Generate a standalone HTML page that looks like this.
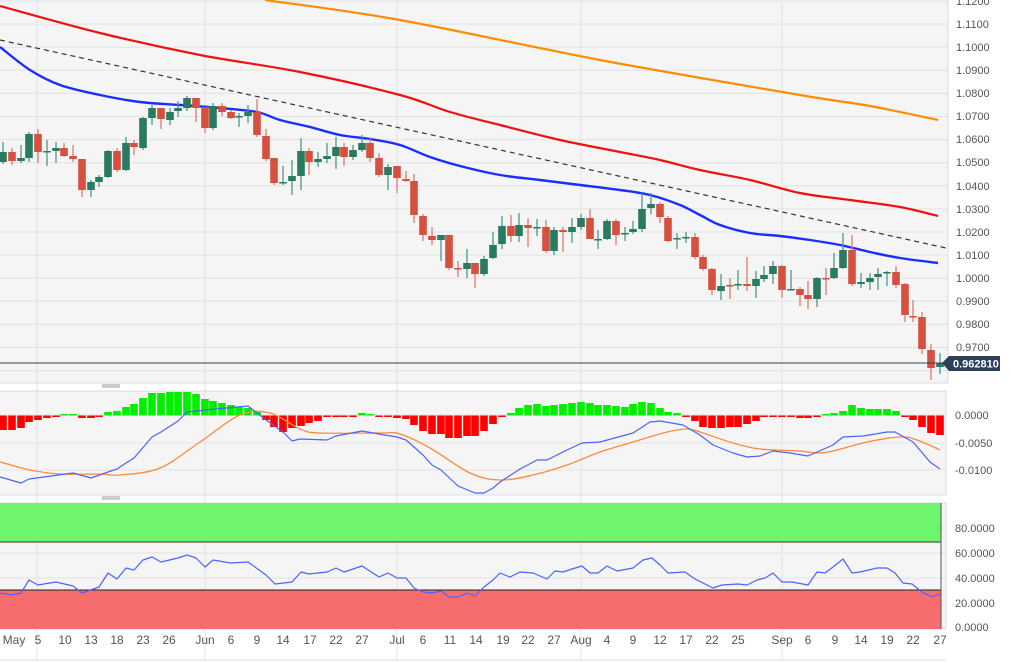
<!DOCTYPE html>
<html><head><meta charset="utf-8"><style>
html,body{margin:0;padding:0;background:#fff;width:1011px;height:663px;overflow:hidden}
svg{display:block;font-family:"Liberation Sans",sans-serif}
.t{font-size:11px;fill:#555}
.b{font-size:12px;fill:#555}
</style></head><body>
<svg id="s" width="1011" height="663" viewBox="0 0 1011 663">
<rect x="0" y="0" width="948" height="383" fill="#f5f5f5"/>
<rect x="0" y="391" width="946" height="104" fill="#f5f5f5"/>
<rect x="0" y="503" width="946" height="126" fill="#f5f5f5"/>
<g id="grid" stroke="#e3e3e3" stroke-width="1"></g>
<g stroke="#d7dce6" fill="none">
<line x1="948" y1="0" x2="948" y2="383"/><line x1="0" y1="383" x2="948" y2="383"/>
<line x1="946" y1="391" x2="946" y2="495"/><line x1="0" y1="391" x2="946" y2="391"/><line x1="0" y1="495" x2="946" y2="495"/>
<line x1="946" y1="503" x2="946" y2="629"/><line x1="0" y1="503" x2="946" y2="503"/><line x1="0" y1="629" x2="946" y2="629"/>
<line x1="0" y1="660" x2="946" y2="660"/>
</g>
<g stroke="#999" stroke-width="1"><line x1="102" y1="385" x2="120" y2="385"/><line x1="102" y1="387" x2="120" y2="387"/><line x1="102" y1="497" x2="120" y2="497"/><line x1="102" y1="499" x2="120" y2="499"/></g>
<rect x="0" y="503" width="941" height="39" fill="#6ff56d"/>
<line x1="0" y1="542" x2="941" y2="542" stroke="#333" stroke-width="1"/>
<rect x="0" y="590" width="941" height="39" fill="#f76d6e"/>
<line x1="0" y1="590" x2="941" y2="590" stroke="#222" stroke-width="1"/>
<line x1="941" y1="503" x2="941" y2="629" stroke="#555" stroke-width="1"/>
<g id="ma" fill="none"></g>
<g id="cd"></g>
<g id="hist"></g>
<g id="ind" fill="none"></g>
<line x1="0" y1="363" x2="948" y2="363" stroke="#2c3e5a" stroke-width="1"/>
<polygon points="942,363 949,356 1000,356 1000,371 949,371" fill="#2c3e5a"/>
<text x="953" y="367.5" font-size="11" font-weight="bold" fill="#fff">0.962810</text>
<g class="t">
<text x="956" y="5">1.1200</text><text x="956" y="28">1.1100</text><text x="956" y="51">1.1000</text>
<text x="956" y="74">1.0900</text><text x="956" y="97">1.0800</text><text x="956" y="120">1.0700</text>
<text x="956" y="143">1.0600</text><text x="956" y="166">1.0500</text><text x="956" y="190">1.0400</text>
<text x="956" y="213">1.0300</text><text x="956" y="236">1.0200</text><text x="956" y="259">1.0100</text>
<text x="956" y="282">1.0000</text><text x="956" y="305">0.9900</text><text x="956" y="328">0.9800</text>
<text x="956" y="351">0.9700</text>
<text x="955" y="419">0.0000</text><text x="955" y="447">-0.0050</text><text x="955" y="474">-0.0100</text>
<text x="955" y="532">80.0000</text><text x="955" y="557">60.0000</text><text x="955" y="582">40.0000</text>
<text x="955" y="607">20.0000</text><text x="955" y="631">0.0000</text>
</g>
<g class="b" text-anchor="middle">
<text x="14" y="644">May</text><text x="38" y="644">5</text><text x="65" y="644">10</text><text x="91" y="644">13</text>
<text x="117" y="644">18</text><text x="143" y="644">23</text><text x="169" y="644">26</text><text x="205" y="644">Jun</text>
<text x="231" y="644">6</text><text x="257" y="644">9</text><text x="283" y="644">14</text><text x="310" y="644">17</text>
<text x="336" y="644">22</text><text x="362" y="644">27</text><text x="397" y="644">Jul</text><text x="423" y="644">6</text>
<text x="450" y="644">11</text><text x="476" y="644">14</text><text x="503" y="644">19</text><text x="528" y="644">22</text>
<text x="554" y="644">27</text><text x="581" y="644">Aug</text><text x="607" y="644">4</text><text x="633" y="644">9</text>
<text x="660" y="644">12</text><text x="686" y="644">17</text><text x="712" y="644">22</text><text x="738" y="644">25</text>
<text x="782" y="644">Sep</text><text x="808" y="644">6</text><text x="835" y="644">9</text><text x="861" y="644">14</text>
<text x="887" y="644">19</text><text x="913" y="644">22</text><text x="940" y="644">27</text>
</g>
</svg>
<script>
var NS="http://www.w3.org/2000/svg";
function el(p,t,a){var e=document.createElementNS(NS,t);for(var k in a)e.setAttribute(k,a[k]);document.getElementById(p).appendChild(e);return e;}
for(var y=1;y<=380;y+=23.1)el("grid","line",{x1:0,y1:y,x2:948,y2:y});
[415,443,470].forEach(function(y){el("grid","line",{x1:0,y1:y,x2:946,y2:y});});
[528,553,578,603].forEach(function(y){el("grid","line",{x1:0,y1:y,x2:946,y2:y});});
[37,205,397,581,782].forEach(function(x){el("grid","line",{x1:x,y1:0,x2:x,y2:660});});
function pl(g,pts,c,w,d){var a={points:pts.map(function(p){return p.join(",")}).join(" "),stroke:c,"stroke-width":w,fill:"none","stroke-linejoin":"round"};if(d)a["stroke-dasharray"]=d;el(g,"polyline",a);}
function sm(g,p,c,w){var d="M"+p[0][0]+","+p[0][1];for(var i=0;i<p.length-1;i++){var p0=p[i-1]||p[i],p1=p[i],p2=p[i+1],p3=p[i+2]||p2;
var c1=[p1[0]+(p2[0]-p0[0])/6,p1[1]+(p2[1]-p0[1])/6],c2=[p2[0]-(p3[0]-p1[0])/6,p2[1]-(p3[1]-p1[1])/6];
d+="C"+c1.join(",")+" "+c2.join(",")+" "+p2.join(",");}
el(g,"path",{d:d,stroke:c,"stroke-width":w,fill:"none"});}
sm("ma",[[265,0],[400,20],[600,60],[800,95],[870,106],[938,120]],"#ff8c00",2.2);
sm("ma",[[0,6],[100,33],[200,55],[300,72],[400,95],[450,112],[500,125],[560,140],[620,152],[660,160],[700,170],[750,180],[800,193],[850,200],[900,207],[938,216]],"#f01010",2.2);
sm("ma",[[0,47],[30,70],[60,85],[100,95],[140,102],[180,105],[220,108],[257,112],[280,120],[310,127],[340,135],[370,139],[400,145],[430,157],[460,166],[500,175],[540,180],[580,185],[620,190],[650,195],[680,205],[700,215],[720,225],[750,233],[780,236],[810,240],[840,245],[870,252],[900,258],[938,263]],"#1a2eff",2.4);
pl("ma",[[0,40],[946,248]],"#333",1.2,"5,4");
var C=[[3,162,152,142,164],[12,152,161,148,165],[21,161,158,145,163],[29,158,134,132,162],[38,134,152,129,163],[47,152,151,140,166],[56,151,148,142,163],[64,148,156,143,157],[73,156,159,145,162],[82,159,190,159,197],[91,190,182,180,197],[99,182,177,175,187],[108,177,151,150,178],[117,151,170,148,172],[126,170,143,137,171],[134,143,147,140,155],[143,148,118,117,150],[152,118,108,105,125],[161,108,119,108,129],[170,120,112,108,125],[178,111,108,101,117],[187,108,98,96,111],[196,98,108,98,122],[205,107,128,107,133],[213,128,106,103,130],[222,106,112,103,116],[231,112,118,110,119],[239,117,116,113,127],[248,116,112,105,123],[257,112,135,99,137],[266,136,159,129,161],[274,158,183,158,185],[283,183,182,166,185],[292,181,176,160,195],[301,176,151,138,190],[309,151,162,148,175],[318,162,159,152,167],[327,159,156,143,163],[336,156,147,137,169],[344,147,157,143,166],[353,157,150,145,160],[362,150,143,135,152],[370,143,158,137,162],[379,158,175,153,177],[388,175,167,164,190],[397,166,178,166,193],[406,179,181,171,182],[414,181,215,174,223],[423,216,235,214,241],[432,236,240,227,245],[441,240,235,235,261],[449,235,268,235,270],[458,268,269,261,277],[467,269,263,249,278],[475,263,274,263,288],[484,274,259,256,276],[493,258,245,232,259],[502,244,226,216,249],[511,226,236,215,242],[519,236,225,213,242],[528,225,228,218,247],[537,228,227,219,236],[546,227,251,220,253],[554,251,230,227,255],[563,230,232,227,252],[572,232,227,218,243],[581,227,218,214,230],[590,218,239,209,239],[598,240,239,230,249],[607,239,221,219,240],[616,221,235,219,245],[625,234,233,227,241],[633,232,229,221,234],[642,229,209,193,232],[651,208,204,193,214],[660,204,217,202,223],[668,218,241,216,242],[677,239,238,233,249],[686,238,237,232,243],[695,237,257,233,259],[703,257,269,255,271],[712,269,290,268,295],[721,291,286,274,300],[730,285,286,278,299],[738,285,284,270,290],[747,284,286,257,291],[756,286,279,271,298],[764,279,275,266,282],[773,274,266,261,284],[782,266,290,265,298],[791,290,289,270,290],[800,289,295,287,306],[808,295,299,281,309],[817,299,278,277,307],[826,278,279,268,295],[834,278,268,253,279],[843,268,250,233,269],[852,250,284,235,286],[861,284,282,273,288],[870,282,278,273,290],[878,277,274,268,290],[887,273,272,271,286],[896,272,285,266,288],[905,284,315,283,322],[913,316,317,300,322],[922,317,349,312,354],[931,350,368,344,380],[940,367,363,353,374]];
C.forEach(function(c){var g=c[2]<=c[1];var col=g?"#287a61":"#d5503f",wc=g?"#4f9a80":"#e07a6c";
el("cd","line",{x1:c[0],y1:c[3],x2:c[0],y2:c[4],stroke:wc,"stroke-width":1.3});
var t=Math.min(c[1],c[2]),h=Math.max(Math.abs(c[1]-c[2]),1.5);el("cd","rect",{x:c[0]-3.8,y:t,width:7.6,height:h,fill:col});});
var H=[[3,430],[12,430],[21,428],[29,422],[38,420],[47,418],[56,417],[64,414],[73,414],[82,418],[91,418],[99,417],[108,412],[117,411],[126,407],[134,404],[143,398],[152,393],[161,393],[170,392],[178,392],[187,392],[196,394],[205,399],[213,401],[222,403],[231,405],[239,407],[248,408],[257,412],[266,420],[274,427],[283,432],[292,428],[301,426],[309,423],[318,421],[327,417],[336,416],[344,416],[353,416],[362,413],[370,414],[379,416],[388,417],[397,418],[406,419],[414,425],[423,431],[432,434],[441,434],[449,438],[458,438],[467,436],[475,436],[484,431],[493,424],[502,417],[511,413],[519,408],[528,405],[537,404],[546,406],[554,405],[563,404],[572,403],[581,402],[590,403],[598,405],[607,405],[616,406],[625,407],[633,404],[642,402],[651,403],[660,408],[668,412],[677,413],[686,417],[695,421],[703,427],[712,428],[721,428],[730,427],[738,427],[747,424],[756,421],[764,417],[773,417],[782,417],[791,417],[800,418],[808,418],[817,417],[826,414],[834,413],[843,411],[852,405],[861,408],[870,409],[878,409],[887,409],[896,411],[905,416],[913,420],[922,427],[931,433],[940,435]];
H.forEach(function(h){var z=415.5,up=h[1]<z;var y=Math.min(h[1],z),ht=Math.max(Math.abs(h[1]-z),1.5);
el("hist","rect",{x:h[0]-3.8,y:y,width:7.6,height:ht,fill:up?"#00ee00":"#ff0000"});});
sm("ind",[[0,462],[30,470],[60,474],[100,474],[120,475],[160,468],[200,442],[240,415],[270,413],[300,429],[320,433],[380,433],[400,434],[430,448],[470,473],[500,480],[533,475],[567,465],[600,452],[633,442],[667,432],[687,429],[700,432],[733,443],[760,449],[800,451],[817,453],[833,451],[867,442],[900,437],[917,440],[940,450]],"#ff8a3c",1.3);
pl("ind",[[0,477],[21,483],[29,479],[73,473],[91,478],[108,472],[117,469],[126,463],[134,458],[152,437],[161,432],[178,421],[187,412],[205,410],[248,406],[257,413],[266,420],[283,432],[292,441],[300,439],[327,440],[336,436],[362,431],[379,434],[397,437],[406,440],[423,455],[432,465],[441,470],[458,486],[475,493],[484,493],[493,488],[500,482],[520,469],[537,460],[547,460],[567,450],[582,443],[600,442],[633,433],[650,422],[660,421],[683,425],[700,435],[713,445],[733,453],[747,457],[760,456],[773,451],[790,453],[808,456],[833,445],[843,437],[863,436],[887,432],[895,432],[913,442],[930,462],[940,469]],"#4d63ff",1.2);
pl("ind",[[0,593],[12,595],[21,593],[29,580],[38,585],[56,582],[73,586],[82,593],[99,587],[108,573],[117,579],[126,568],[134,570],[143,560],[152,557],[161,562],[178,558],[187,555],[196,558],[205,567],[213,560],[231,563],[248,562],[266,575],[275,584],[292,582],[301,572],[309,574],[327,572],[336,568],[344,572],[362,566],[379,577],[388,573],[397,578],[406,578],[414,588],[423,592],[432,593],[441,591],[449,597],[458,597],[467,593],[475,596],[484,587],[493,580],[500,573],[510,577],[520,572],[533,573],[547,579],[555,571],[563,572],[572,569],[582,566],[590,573],[598,573],[607,566],[617,571],[633,568],[643,560],[652,558],[660,565],[668,573],[685,572],[695,579],[703,583],[713,588],[722,585],[738,584],[747,585],[757,580],[765,578],[773,573],[782,582],[792,582],[808,585],[817,572],[825,573],[833,567],[843,559],[852,573],[860,572],[877,568],[887,568],[895,573],[903,583],[912,584],[922,592],[932,597],[940,594]],"#4d63ff",1.2);
</script>
</body></html>
